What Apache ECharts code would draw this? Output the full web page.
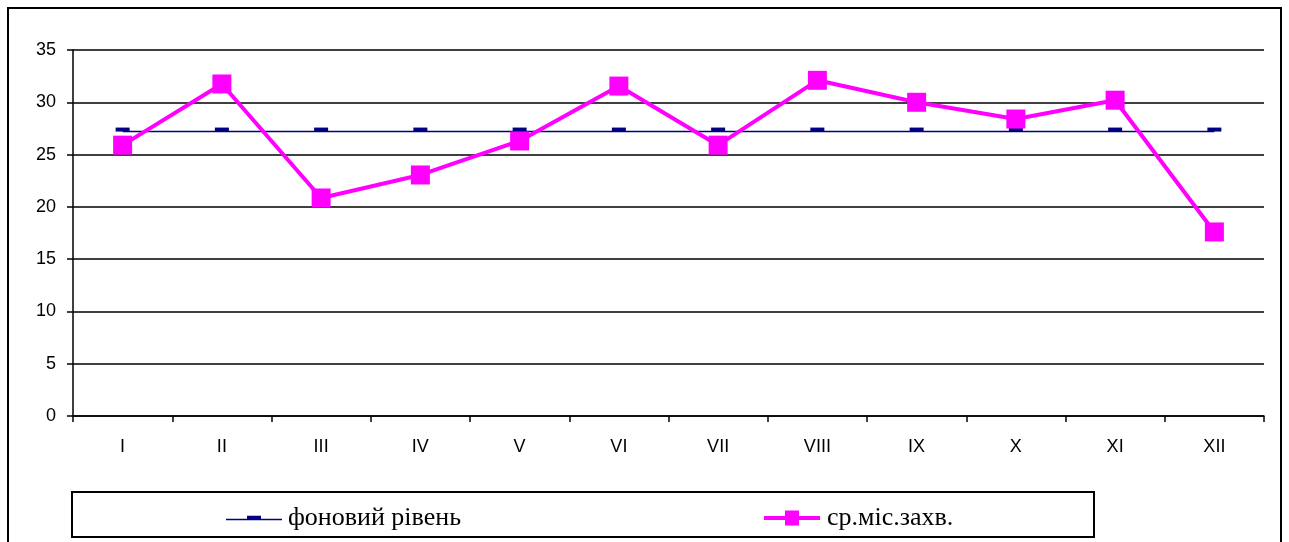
<!DOCTYPE html>
<html>
<head>
<meta charset="utf-8">
<script src="https://cdn.jsdelivr.net/npm/echarts@6/dist/echarts.min.js"></script>
<style>html,body{margin:0;padding:0;background:#fff;}#c{width:1289px;height:542px;}</style>
</head>
<body>
<div id="c"></div>
<script>
const categories = ['I','II','III','IV','V','VI','VII','VIII','IX','X','XI','XII'];
const backgroundLevel = [27.2,27.2,27.2,27.2,27.2,27.2,27.2,27.2,27.2,27.2,27.2,27.2];
const monthlyMean = [25.9,31.75,20.85,23.05,26.3,31.55,25.9,32.1,30.0,28.4,30.2,17.6];
const seriesNames = ['фоновий рівень','ср.міс.захв.'];
const yTicks = {min:0, max:35, interval:5};

const chart = echarts.init(document.getElementById('c'));
chart.setOption({
  animation:false,
  backgroundColor:'#fff',
  grid:{left:73, top:50, width:1191, height:366, containLabel:false},
  xAxis:{
    type:'category', data:categories, boundaryGap:true,
    axisLine:{lineStyle:{color:'#000', width:1.5}},
    axisTick:{show:true, length:6, lineStyle:{color:'#000', width:1.5}},
    axisLabel:{color:'#000', fontFamily:'Liberation Sans, Arial', fontSize:18, margin:22}
  },
  yAxis:{
    type:'value', min:yTicks.min, max:yTicks.max, interval:yTicks.interval,
    axisLine:{show:true, lineStyle:{color:'#000', width:1.5}},
    axisTick:{show:true, length:6, lineStyle:{color:'#000', width:1.5}},
    axisLabel:{color:'#000', fontFamily:'Liberation Sans, Arial', fontSize:18, margin:17},
    splitLine:{show:true, lineStyle:{color:'#000', width:1.6}}
  },
  legend:[
    {left:226, top:505, padding:0, itemWidth:56, itemHeight:4.5, itemGap:0,
     textStyle:{fontFamily:'Liberation Serif, Times New Roman', fontSize:26, color:'#000', padding:[0,0,0,1]},
     data:[{name:seriesNames[0], icon:'path://M0,3 L56,3 L56,4.5 L0,4.5 Z M21,0 L35,0 L35,4 L21,4 Z'}]},
    {left:764, top:505, padding:0, itemWidth:56, itemHeight:15, itemGap:0,
     textStyle:{fontFamily:'Liberation Serif, Times New Roman', fontSize:26, color:'#000', padding:[0,0,0,2]},
     data:[{name:seriesNames[1], icon:'path://M0,5.5 L56,5.5 L56,9.5 L0,9.5 Z M21,0 L35,0 L35,15 L21,15 Z'}]}
  ],
  graphic:[
    {type:'rect', shape:{x:8, y:8, width:1273, height:545}, style:{fill:'none', stroke:'#000', lineWidth:2}, silent:true},
    {type:'rect', shape:{x:72, y:492, width:1022, height:45}, style:{fill:'none', stroke:'#000', lineWidth:2}, silent:true}
  ],
  series:[
    {name:seriesNames[0], type:'line', data:backgroundLevel, color:'#000080',
     lineStyle:{color:'#000080', width:1.5},
     symbol:'rect', symbolSize:[14,4], symbolOffset:[0,-2], showSymbol:true,
     itemStyle:{color:'#000080'}, z:2},
    {name:seriesNames[1], type:'line', data:monthlyMean, color:'#FF00FF',
     lineStyle:{color:'#FF00FF', width:4},
     symbol:'rect', symbolSize:19, showSymbol:true,
     itemStyle:{color:'#FF00FF'}, z:3}
  ]
});
</script>
</body>
</html>
